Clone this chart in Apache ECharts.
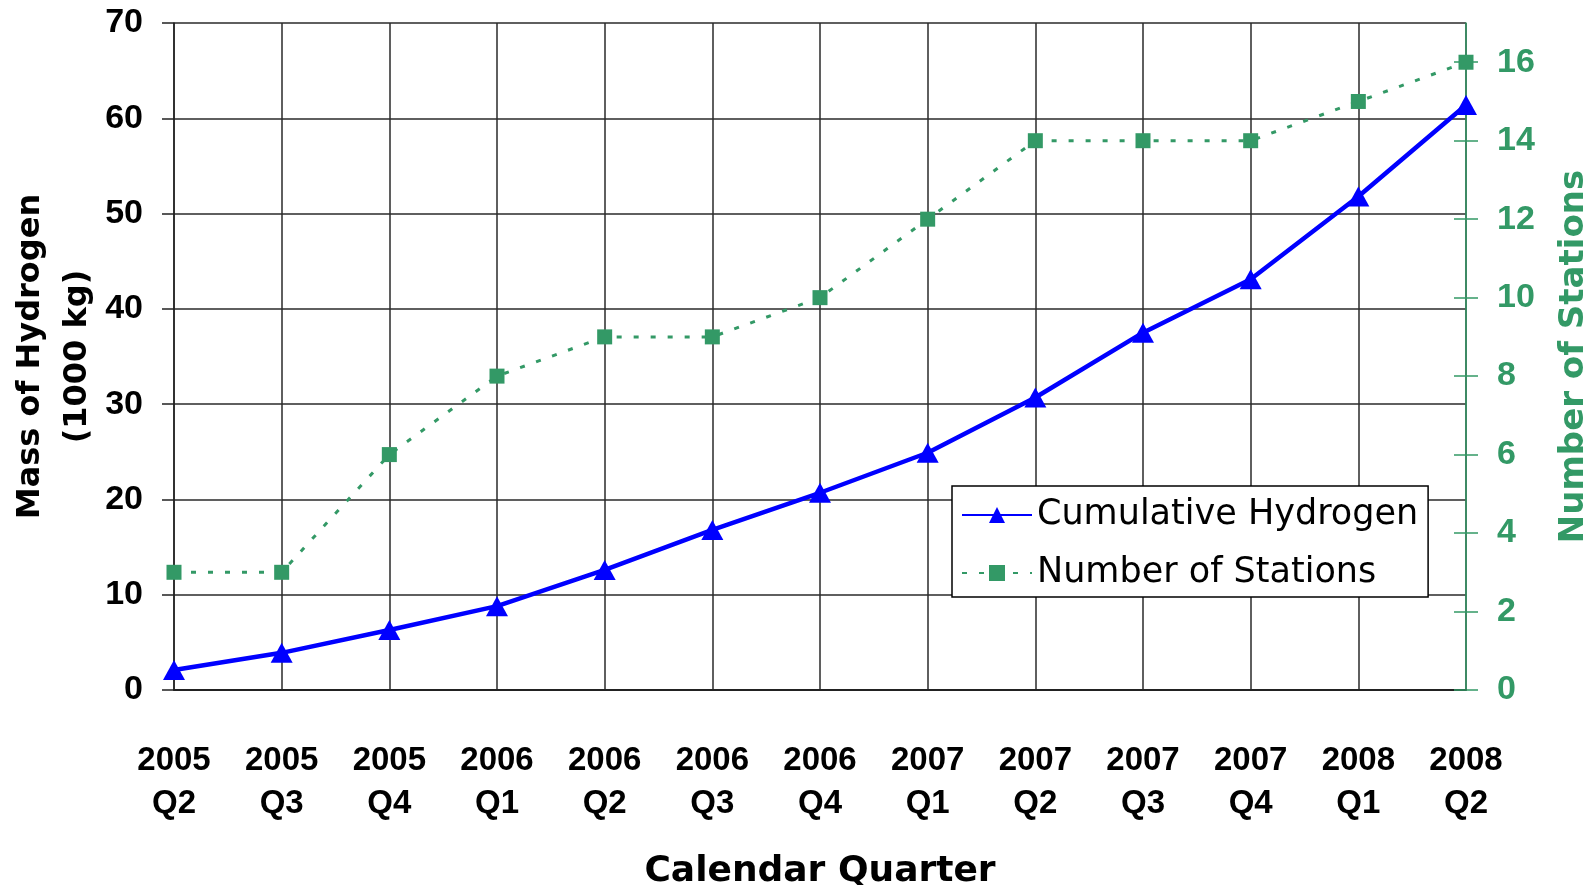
<!DOCTYPE html>
<html>
<head>
<meta charset="utf-8">
<script src="https://cdn.jsdelivr.net/npm/echarts@6/dist/echarts.min.js"></script>
<style>
html,body{margin:0;padding:0;background:#fff;}
#chart{width:1594px;height:885px;}
</style>
</head>
<body>
<div id="chart"></div>
<script>
var categories = ['2005\nQ2','2005\nQ3','2005\nQ4','2006\nQ1','2006\nQ2','2006\nQ3','2006\nQ4','2007\nQ1','2007\nQ2','2007\nQ3','2007\nQ4','2008\nQ1','2008\nQ2'];
var cumulativeHydrogen = [2.1, 3.9, 6.3, 8.8, 12.6, 16.8, 20.7, 24.9, 30.7, 37.5, 43.1, 51.8, 61.4];
var numberOfStations = [3, 3, 6, 8, 9, 9, 10, 12, 14, 14, 14, 15, 16];
var stationTicks = [0, 2, 4, 6, 8, 10, 12, 14, 16];

var GREEN = '#339966';
var BLUE = '#0000FF';
var chart = echarts.init(document.getElementById('chart'));
chart.setOption({
  animation: false,
  backgroundColor: '#ffffff',
  grid: { left: 174, right: 128, top: 23, bottom: 195, containLabel: false, outerBoundsMode: 'none' },
  legend: {
    orient: 'vertical',
    left: 952, top: 486,
    padding: [9, 10, 4, 9],
    itemGap: 18,
    itemWidth: 70,
    itemHeight: 20,
    backgroundColor: '#ffffff',
    borderColor: '#000000',
    borderWidth: 1.5,
    textStyle: { fontFamily: 'DejaVu Sans', fontSize: 35, color: '#000', lineHeight: 40 },
    data: ['Cumulative Hydrogen', 'Number of Stations']
  },
  xAxis: {
    type: 'category',
    data: categories,
    boundaryGap: false,
    axisLine: { lineStyle: { color: '#222', width: 2 } },
    axisTick: { show: false },
    axisLabel: { fontFamily: 'Liberation Sans', fontWeight: 'bold', fontSize: 33, color: '#000', lineHeight: 43, margin: 49, interval: 0 },
    splitLine: { show: true, lineStyle: { color: '#2a2a2a', width: 1.5 } },
    name: 'Calendar Quarter',
    nameLocation: 'middle',
    nameGap: 182,
    nameTextStyle: { fontFamily: 'DejaVu Sans', fontWeight: 'bold', fontSize: 36, color: '#000', verticalAlign: 'middle' }
  },
  yAxis: [
    {
      type: 'value', min: 0, max: 70, interval: 10, position: 'left',
      axisLine: { show: true, lineStyle: { color: '#222', width: 1.5 } },
      axisTick: { show: true, length: 12, lineStyle: { color: '#222', width: 1.5 } },
      axisLabel: { fontFamily: 'Liberation Sans', fontWeight: 'bold', fontSize: 34, color: '#000', margin: 31 },
      splitLine: { show: true, lineStyle: { color: '#2a2a2a', width: 1.5 } },
      name: 'Mass of Hydrogen\n(1000 kg)',
      nameLocation: 'middle',
      nameGap: 120,
      nameRotate: 90,
      nameMoveOverlap: false,
      nameTextStyle: { fontFamily: 'DejaVu Sans', fontWeight: 'bold', fontSize: 32, color: '#000', lineHeight: 47, verticalAlign: 'middle', align: 'center' }
    },
    {
      type: 'value', min: 0, max: 17, position: 'right',
      axisLine: { show: true, lineStyle: { color: GREEN, width: 1.5 } },
      axisTick: { show: true, length: 12, customValues: stationTicks, lineStyle: { color: GREEN, width: 1.5 } },
      axisLabel: { fontFamily: 'Liberation Sans', fontWeight: 'bold', fontSize: 34, color: GREEN, margin: 31, customValues: stationTicks },
      splitLine: { show: false },
      name: 'Number of Stations',
      nameLocation: 'middle',
      nameGap: 108,
      nameRotate: 90,
      nameTextStyle: { fontFamily: 'DejaVu Sans', fontWeight: 'bold', fontSize: 34, color: GREEN, verticalAlign: 'middle', align: 'center' }
    },
    {
      type: 'value', min: 0, max: 17, position: 'right',
      axisLine: { show: false },
      axisTick: { show: true, inside: true, length: 12, customValues: stationTicks, lineStyle: { color: GREEN, width: 1.5 } },
      axisLabel: { show: false },
      splitLine: { show: false }
    }
  ],
  series: [
    {
      name: 'Cumulative Hydrogen',
      type: 'line',
      yAxisIndex: 0,
      data: cumulativeHydrogen,
      symbol: 'triangle',
      symbolSize: [22, 20],
      itemStyle: { color: BLUE },
      lineStyle: { color: BLUE, width: 4.5 },
      z: 5
    },
    {
      name: 'Number of Stations',
      type: 'line',
      yAxisIndex: 1,
      data: numberOfStations,
      symbol: 'rect',
      symbolSize: 15,
      itemStyle: { color: GREEN },
      lineStyle: { color: GREEN, width: 3, type: [5, 12] },
      z: 4
    }
  ]
});
</script>
</body>
</html>
